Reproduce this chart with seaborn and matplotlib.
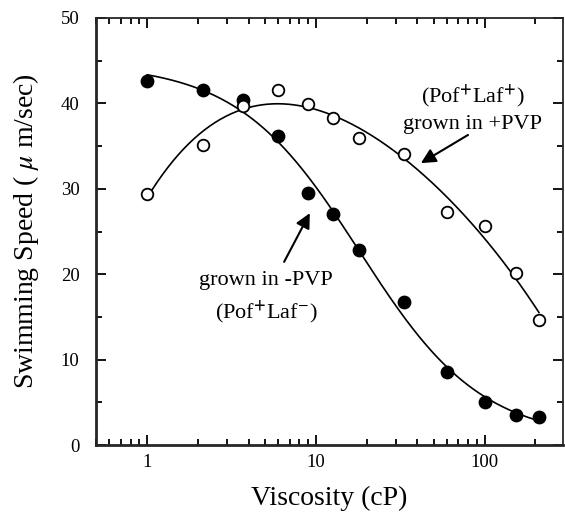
import numpy as np
import pandas as pd
import matplotlib
matplotlib.use("Agg")
import matplotlib.pyplot as plt
import seaborn as sns
from matplotlib.ticker import MultipleLocator, FuncFormatter, LogLocator

# =========================
# DATA
# =========================
viscosity = [1.0, 2.16, 3.7, 6.0, 9.0, 12.6, 18.1, 33.5, 60.0, 100.0, 153.0, 210.0]
speed_minus_pvp = [42.6, 41.5, 40.4, 36.2, 29.5, 27.1, 22.8, 16.7, 8.6, 5.0, 3.5, 3.3]   # filled
speed_plus_pvp = [29.4, 35.1, 39.7, 41.5, 39.9, 38.3, 36.0, 34.1, 27.3, 25.6, 20.2, 14.7]  # open

FIT_ORDER_PLUS = 4

# =========================
# STYLE
# =========================
sns.set_theme(style="ticks")
plt.rcParams["font.family"] = ["Liberation Serif", "DejaVu Serif"]
plt.rcParams["mathtext.fontset"] = "stix"
plt.rcParams["text.color"] = "black"
plt.rcParams["axes.labelcolor"] = "black"


def poly_fit(x, y, order, n=300):
    """polynomial fit in log10(x), as a smooth curve"""
    lx = np.log10(x)
    coef = np.polyfit(lx, y, order)
    gx = np.linspace(lx.min(), lx.max(), n)
    return pd.DataFrame({"x": 10 ** gx, "y": np.polyval(coef, gx)})


def hill_fit(x, y, n=300):
    """y = d + (a - d) / (1 + (x/c)^b), grid search on b, c; a, d by lstsq"""
    x = np.asarray(x, float)
    y = np.asarray(y, float)
    best = None
    for b in np.linspace(0.5, 4, 71):
        for c in np.logspace(0, 2.3, 116):
            f = 1 / (1 + (x / c) ** b)
            A = np.column_stack([f, 1 - f])
            p, *_ = np.linalg.lstsq(A, y, rcond=None)
            err = np.sum((A @ p - y) ** 2)
            if best is None or err < best[0]:
                best = (err, b, c, p)
    _, b, c, (a, d) = best
    gx = np.logspace(np.log10(x.min()), np.log10(x.max()), n)
    return pd.DataFrame({"x": gx, "y": d + (a - d) / (1 + (gx / c) ** b)})


df = pd.DataFrame({
    "x": viscosity,
    "minus": speed_minus_pvp,
    "plus": speed_plus_pvp,
})

fig = plt.figure(figsize=(5.65, 5.25), dpi=100)
ax = fig.add_axes([0.170, 0.152, 0.826, 0.814])

fit_minus = hill_fit(df["x"].values, df["minus"].values)
fit_plus = poly_fit(df["x"].values, df["plus"].values, FIT_ORDER_PLUS)

sns.lineplot(data=fit_minus, x="x", y="y", color="black", lw=1.2, ax=ax)
sns.lineplot(data=fit_plus, x="x", y="y", color="black", lw=1.2, ax=ax)

sns.scatterplot(data=df, x="x", y="minus", s=80, color="black",
                edgecolor="black", linewidth=1, ax=ax, zorder=3)
sns.scatterplot(data=df, x="x", y="plus", s=70, facecolor="white",
                edgecolor="black", linewidth=1.3, ax=ax, zorder=3)

ax.set_xscale("log")
ax.set_xlim(0.5, 290)
ax.set_ylim(0, 50)

ax.xaxis.set_major_locator(LogLocator(base=10))
ax.xaxis.set_major_formatter(FuncFormatter(lambda v, p: f"{v:g}"))
ax.xaxis.set_minor_locator(LogLocator(base=10, subs=np.arange(2, 10)))
ax.yaxis.set_major_locator(MultipleLocator(10))
ax.yaxis.set_minor_locator(MultipleLocator(5))

ax.tick_params(which="both", direction="in", top=True, right=True,
               width=1.3, labelsize=13.5, colors="black")
ax.tick_params(axis="x", pad=6)
ax.tick_params(axis="y", pad=12)
ax.tick_params(which="major", length=7)
ax.tick_params(which="minor", length=4)
for side in ["left", "bottom"]:
    ax.spines[side].set_linewidth(2)
for side in ["top", "right"]:
    ax.spines[side].set_linewidth(1.3)

ax.set_xlabel("Viscosity (cP)", fontsize=20, labelpad=11)
ax.set_ylabel(r"Swimming Speed ( $\mu$ m/sec)", fontsize=20, labelpad=14)

# annotations
plus_txt = "(Pof$^{\\mathbf{+}}$Laf$^{\\mathbf{+}}$)\ngrown in +PVP"
minus_txt = "grown in -PVP\n(Pof$^{\\mathbf{+}}$Laf$^{-}$)"
ax.text(0.807, 0.789, plus_txt, transform=ax.transAxes, ha="center",
        va="center", fontsize=16, linespacing=1.4)
ax.text(0.364, 0.344, minus_txt, transform=ax.transAxes, ha="center",
        va="center", fontsize=16, linespacing=1.4)

arrow = dict(arrowstyle="-|>", color="black", lw=1.5, mutation_scale=22,
             shrinkA=0, shrinkB=0)
ax.annotate("", xy=(0.696, 0.660), xytext=(0.797, 0.726),
            xycoords="axes fraction", arrowprops=arrow)
ax.annotate("", xy=(0.458, 0.543), xytext=(0.403, 0.429),
            xycoords="axes fraction", arrowprops=arrow)

fig.savefig("out.png", dpi=100)
